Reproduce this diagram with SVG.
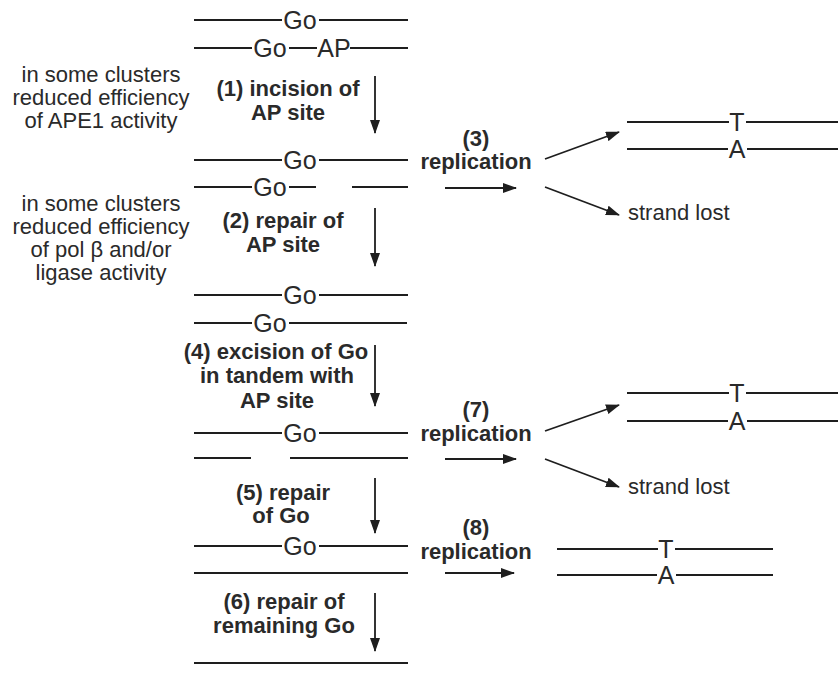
<svg xmlns="http://www.w3.org/2000/svg" width="838" height="688" viewBox="0 0 838 688">
<style>
text{font-family:"Liberation Sans",Arial,sans-serif;fill:#2a2a2a}
.n{font-size:22px}
.g{font-size:25px}
.b{font-size:22px;font-weight:bold}
.m{text-anchor:middle}
.s{stroke:#1e1e1e;stroke-width:2;fill:none}
.a{stroke:#1e1e1e;stroke-width:1.8;fill:none;marker-end:url(#ah)}
</style>
<defs>
<marker id="ah" markerUnits="userSpaceOnUse" markerWidth="14" markerHeight="10" refX="13" refY="5" orient="auto">
<path d="M0,0 L14,5 L0,10 z" fill="#1e1e1e"/>
</marker>
</defs>
<rect width="838" height="688" fill="#fff"/>

<g id="dna1">
<path class="s" d="M194,20H282M319,20H408M194,48H252M289,48H317M350,48H408"/>
<text class="g m" x="300" y="29">Go</text>
<text class="g m" x="270" y="57">Go</text>
<text class="g m" x="334" y="57">AP</text>
</g>

<g id="note1">
<text class="n m" x="101" y="82">in some clusters</text>
<text class="n m" x="101" y="105">reduced efficiency</text>
<text class="n m" x="101" y="128">of APE1 activity</text>
</g>

<g id="step1">
<text class="b m" x="288" y="96">(1) incision of</text>
<text class="b m" x="288" y="120">AP site</text>
</g>

<g id="dna2">
<path class="s" d="M194,160H282M319,160H408M194,187H252M289,187H316M352,187H408"/>
<text class="g m" x="300" y="169">Go</text>
<text class="g m" x="270" y="196">Go</text>
</g>

<g id="step3">
<text class="b m" x="476" y="146">(3)</text>
<text class="b m" x="476" y="169">replication</text>
</g>

<g id="out3a">
<path class="s" d="M627,122H729M746,122H838M627,149H728M747,149H838"/>
<text class="g m" x="737" y="131">T</text>
<text class="g m" x="737" y="158">A</text>
</g>

<g id="out3b">
<text class="n" x="628" y="220">strand lost</text>
</g>

<g id="note2">
<text class="n m" x="101" y="211">in some clusters</text>
<text class="n m" x="101" y="234">reduced efficiency</text>
<text class="n m" x="101" y="257">of pol β and/or</text>
<text class="n m" x="101" y="280">ligase activity</text>
</g>

<g id="step2">
<text class="b m" x="283" y="228">(2) repair of</text>
<text class="b m" x="283" y="252">AP site</text>
</g>

<g id="dna3">
<path class="s" d="M194,295H282M319,295H408M194,323H252M289,323H407"/>
<text class="g m" x="300" y="304">Go</text>
<text class="g m" x="270" y="332">Go</text>
</g>

<g id="step4">
<text class="b m" x="276" y="359">(4) excision of Go</text>
<text class="b m" x="277" y="383">in tandem with</text>
<text class="b m" x="277" y="408">AP site</text>
</g>

<g id="dna4">
<path class="s" d="M194,433H282M319,433H408M194,458H251M290,458H408"/>
<text class="g m" x="300" y="442">Go</text>
</g>

<g id="step7">
<text class="b m" x="476" y="417">(7)</text>
<text class="b m" x="476" y="441">replication</text>
</g>

<g id="out7a">
<path class="s" d="M627,393H729M746,393H838M627,421H728M747,421H838"/>
<text class="g m" x="737" y="402">T</text>
<text class="g m" x="737" y="430">A</text>
</g>

<g id="out7b">
<text class="n" x="628" y="494">strand lost</text>
</g>

<g id="step5">
<text class="b m" x="283" y="500">(5) repair</text>
<text class="b m" x="281" y="523">of Go</text>
</g>

<g id="dna5">
<path class="s" d="M194,546H282M319,546H408M194,573H408"/>
<text class="g m" x="300" y="555">Go</text>
</g>

<g id="step8">
<text class="b m" x="476" y="535">(8)</text>
<text class="b m" x="476" y="559">replication</text>
</g>

<g id="out8">
<path class="s" d="M557,549H658M675,549H773M557,575H657M676,575H773"/>
<text class="g m" x="666" y="558">T</text>
<text class="g m" x="666" y="584">A</text>
</g>

<g id="step6">
<text class="b m" x="284" y="609">(6) repair of</text>
<text class="b m" x="284" y="633">remaining Go</text>
</g>

<g id="dna6">
<path class="s" d="M194,663H408"/>
</g>

<g id="connectors">
<path class="a" d="M375,76V133"/>
<path class="a" d="M375,208V266"/>
<path class="a" d="M375,345V406"/>
<path class="a" d="M375,478V533"/>
<path class="a" d="M375,593V651"/>
<path class="a" d="M445,188H516"/>
<path class="a" d="M545,159L619,132"/>
<path class="a" d="M545,187L619,215"/>
<path class="a" d="M445,459H516"/>
<path class="a" d="M545,431L619,405"/>
<path class="a" d="M545,459L619,487"/>
<path class="a" d="M445,573H514"/>
</g>
</svg>
